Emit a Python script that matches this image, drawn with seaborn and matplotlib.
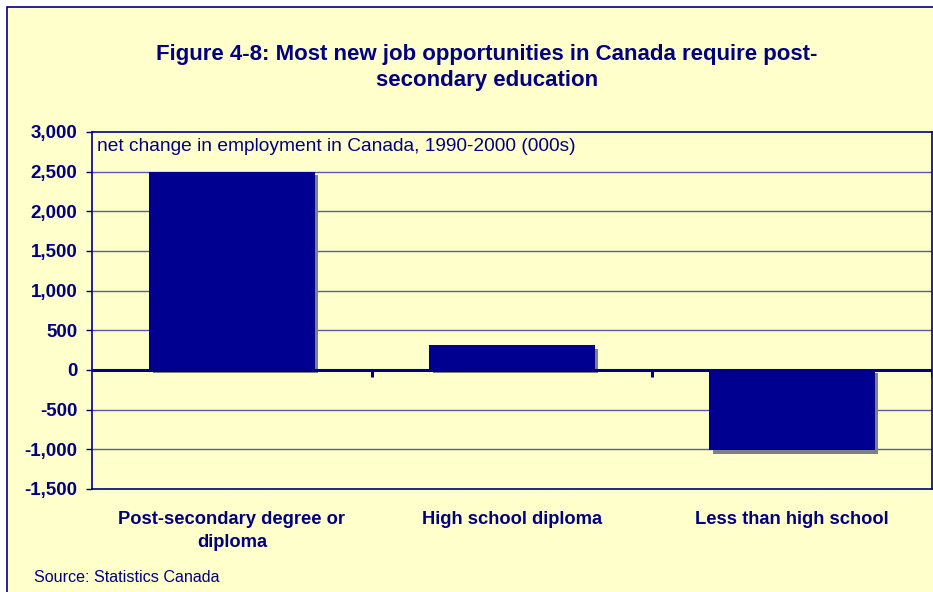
import matplotlib
matplotlib.use("Agg")
import matplotlib.pyplot as plt
import matplotlib.patheffects as pe
from matplotlib.patches import Rectangle
from matplotlib.ticker import FuncFormatter
import seaborn as sns
import pandas as pd

categories = ["Post-secondary degree or\ndiploma", "High school diploma", "Less than high school"]
net_change = [2500, 310, -1010]
y_ticks = [-1500, -1000, -500, 0, 500, 1000, 1500, 2000, 2500, 3000]

NAVY = "#000080"
BAR = "#000090"
PANEL = "#FFFFCC"

sns.set_theme(style="white")
plt.rcParams["font.family"] = ["Liberation Sans", "DejaVu Sans"]

df = pd.DataFrame({"category": categories, "change": net_change})

fig = plt.figure(figsize=(9.33, 5.92), dpi=100, facecolor="white")
W, H = 933, 592
fig.patches.append(Rectangle((6.5 / W, -0.05), 1.1, 1 - 6.5 / H + 0.05,
                             transform=fig.transFigure, facecolor=PANEL,
                             edgecolor=NAVY, linewidth=1.2, zorder=-10))

ax = fig.add_axes([92 / W, 1 - 489 / H, (932 - 92) / W, (489 - 132) / H])
ax.set_facecolor(PANEL)

sns.barplot(data=df, x="category", y="change", color=BAR, saturation=1,
            width=0.59, ax=ax, zorder=3)
for bar in ax.patches:
    bar.set_edgecolor("none")
    bar.set_path_effects([pe.SimplePatchShadow(offset=(2.5, -2.5),
                                               shadow_rgbFace="#808080", alpha=1),
                          pe.Normal()])

ax.set_xlim(-0.5, 2.5)
ax.set_ylim(-1500, 3000)
ax.set_yticks(y_ticks)
ax.yaxis.set_major_formatter(FuncFormatter(lambda v, p: f"{int(v):,}"))
for v in y_ticks:
    if v not in (0, -1500, 3000):
        ax.axhline(v, color="#5a5aa8", linewidth=1.0, zorder=1)
ax.axhline(0, color=NAVY, linewidth=2.2, zorder=4)
ax.vlines([0.5, 1.5, 2.5], 0, -90, color=NAVY, linewidth=2.2, zorder=4)

for s in ax.spines.values():
    s.set_color(NAVY)
    s.set_linewidth(1.2)
    s.set_visible(True)

ax.tick_params(axis="y", which="both", left=True, length=4.5, width=1,
               color=NAVY, labelcolor=NAVY, labelsize=13.5, pad=6)
for lab in ax.get_yticklabels():
    lab.set_fontweight("bold")
ax.tick_params(axis="x", bottom=False, labelcolor=NAVY, labelsize=13.2, pad=10)
for lab in ax.get_xticklabels():
    lab.set_fontweight("bold")
    lab.set_linespacing(1.42)
ax.set_xlabel("")
ax.set_ylabel("")

ax.text(0.006, 0.982, "net change in employment in Canada, 1990-2000 (000s)",
        transform=ax.transAxes, ha="left", va="top", color=NAVY, fontsize=13.8)

fig.text(487 / W, 1 - 67.5 / H,
         "Figure 4-8: Most new job opportunities in Canada require post-\nsecondary education",
         ha="center", va="center", color=NAVY, fontsize=16, fontweight="bold",
         linespacing=1.32)
fig.text(34 / W, 1 - 577 / H, "Source: Statistics Canada", ha="left", va="center",
         color=NAVY, fontsize=11.6)

fig.savefig("out.png", dpi=100, facecolor=fig.get_facecolor())
